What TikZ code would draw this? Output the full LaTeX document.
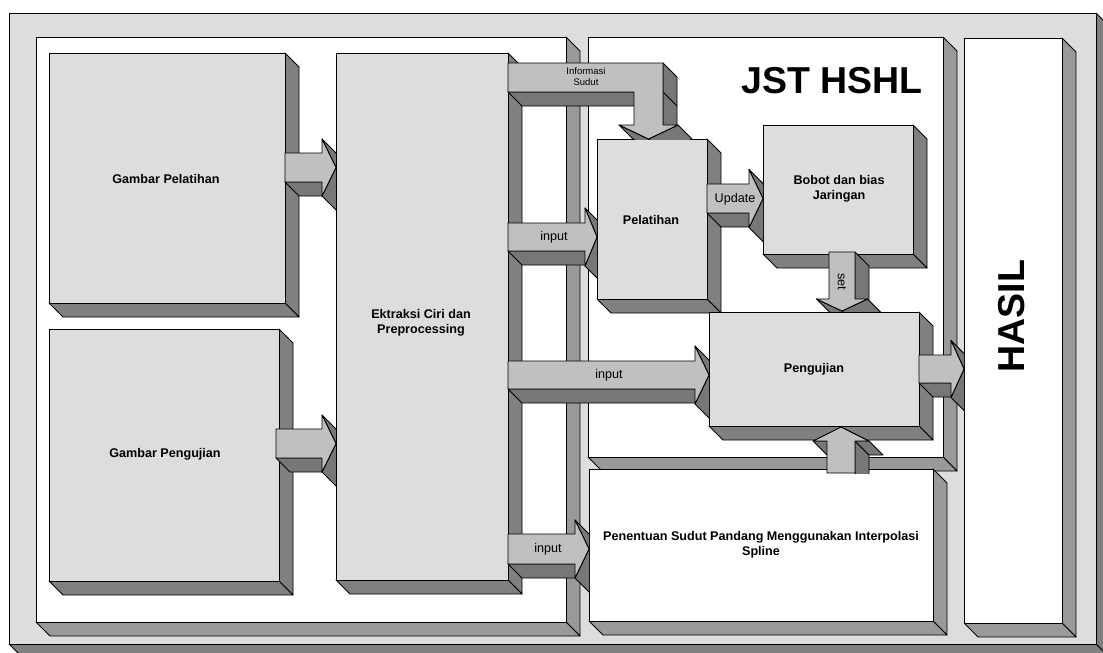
\documentclass[tikz,border=0pt]{standalone}
\usepackage{fontspec}
\setmainfont{Liberation Sans}
\definecolor{boxface}{HTML}{DDDDDD}
\definecolor{boxside}{HTML}{808080}
\definecolor{panelside}{HTML}{999999}
\definecolor{arrface}{HTML}{C0C0C0}
\definecolor{arrside}{HTML}{777777}
\tikzset{
  ln/.style={draw=black, line width=0.9pt, line join=round},
  pside/.style={ln, fill=panelside},
  bside/.style={ln, fill=boxside},
  aside/.style={ln, fill=arrside},
  aface/.style={ln, fill=arrface},
  lbl/.style={inner sep=0pt, align=center, font=\fontsize{12.6}{15}\selectfont\bfseries},
  albl/.style={inner sep=0pt, align=center, font=\fontsize{12.6}{15}\selectfont},
  smalllbl/.style={inner sep=0pt, align=center, font=\fontsize{9.5}{11}\selectfont},
  biglbl/.style={inner sep=0pt, align=center, font=\fontsize{37.5}{40}\selectfont\bfseries},
}
% 3D box: x1 y1 x2 y2 frontcolour sidestyle
\newcommand{\boxthree}[6]{%
  \draw[#6] (#3,#2) -- ({#3+14},{#2+14}) -- ({#3+14},{#4+14}) -- (#3,#4) -- cycle;
  \draw[#6] (#1,#4) -- (#3,#4) -- ({#3+14},{#4+14}) -- ({#1+14},{#4+14}) -- cycle;
  \draw[ln, fill=#5] (#1,#2) rectangle (#3,#4);
}
% extruded edge
\newcommand{\extr}[4]{%
  \draw[aside] (#1,#2) -- (#3,#4) -- ({#3+14},{#4+14}) -- ({#1+14},{#2+14}) -- cycle;
}
% right arrow: x0 xh xt ytop ybot headhalf
\newcommand{\RArr}[6]{%
  \pgfmathsetmacro\aYm{(#4+#5)/2}%
  \pgfmathsetmacro\aHt{\aYm-#6}%
  \pgfmathsetmacro\aHb{\aYm+#6}%
  \begin{scope}
    \clip ({#1-30},0) rectangle (#3,653);
    \extr{#1}{#5}{#2}{#5}
    \extr{#3}{\aYm}{#2}{\aHb}
    \extr{#2}{\aHt}{#3}{\aYm}
  \end{scope}
  \draw[aface] (#1,#4) -- (#2,#4) -- (#2,\aHt) -- (#3,\aYm) -- (#2,\aHb) -- (#2,#5) -- (#1,#5) -- cycle;
}
% down arrow: y0 yh yt xl xr headhalf
\newcommand{\DArr}[6]{%
  \pgfmathsetmacro\aXm{(#4+#5)/2}%
  \pgfmathsetmacro\aHl{\aXm-#6}%
  \pgfmathsetmacro\aHr{\aXm+#6}%
  \begin{scope}
    \clip (0,{#1-30}) rectangle (1103,#3);
    \extr{#5}{#1}{#5}{#2}
    \extr{\aXm}{#3}{\aHl}{#2}
    \extr{\aHr}{#2}{\aXm}{#3}
  \end{scope}
  \draw[aface] (#4,#1) -- (#5,#1) -- (#5,#2) -- (\aHr,#2) -- (\aXm,#3) -- (\aHl,#2) -- (#4,#2) -- cycle;
}
\begin{document}
\begin{tikzpicture}[x=1pt, y=-1pt]
\useasboundingbox (0,0) rectangle (1103,653);
\clip (0,0) rectangle (1103,653);
\fill[white] (0,0) rectangle (1103,653);
% outer frame
\boxthree{9}{13}{1096}{644}{boxface}{bside}
% panels
\boxthree{36}{37}{566}{622}{white}{pside}
\boxthree{588}{37}{943}{457}{white}{pside}
\boxthree{589}{469}{933}{621}{white}{pside}
\boxthree{964}{38}{1062}{623}{white}{pside}
% left boxes
\boxthree{49}{53}{285}{303}{boxface}{bside}
\boxthree{49}{329}{279}{581}{boxface}{bside}
\RArr{285}{322}{336}{153}{182}{28.5}
\RArr{276}{322}{336}{429}{458}{28.5}
\boxthree{336}{53}{508}{580}{boxface}{bside}
% right boxes
\boxthree{597}{139}{707}{299}{boxface}{bside}
\boxthree{763}{125}{913}{254}{boxface}{bside}
\boxthree{709}{312}{919}{426}{boxface}{bside}
% Informasi Sudut arrow
\begin{scope}
  \clip (400,0) rectangle (720,139);
  \draw[aside] (663,63) -- (677,77) -- (677,139) -- (663,125) -- cycle;
  \draw[aside] (634,92) -- (508,92) -- (522,106) -- (648,106) -- cycle;
  \draw[aside] (648.5,139) -- (619,125) -- (633,139) -- (662.5,153) -- cycle;
  \draw[aside] (678,125) -- (648.5,139) -- (662.5,153) -- (692,139) -- cycle;
  \draw[ln] (663,92) -- (677,106);
\end{scope}
\draw[aface] (508,63) -- (663,63) -- (663,125) -- (678,125) -- (648.5,139) -- (619,125) -- (634,125) -- (634,92) -- (508,92) -- cycle;
% input arrows
\RArr{508}{585}{597}{223}{251}{29}
\RArr{508}{695}{709}{361}{389}{29}
\RArr{508}{575}{589}{534}{564}{29}
% update
\RArr{707}{749}{763}{184}{213}{29}
% set
\DArr{252}{299}{311}{829}{855}{25.5}
% up arrow from Penentuan to Pengujian
\begin{scope}
  \clip (0,0) rectangle (1103,473);
  \draw[aside] (855,441) -- (869,455) -- (869,487) -- (855,473) -- cycle;
  \draw[aside] (813,441) -- (827,441) -- (841,455) -- (827,455) -- cycle;
  \draw[aside] (855,441) -- (869,441) -- (883,455) -- (869,455) -- cycle;
\end{scope}
\draw[aface] (827,473) -- (827,441) -- (813,441) -- (841,427) -- (869,441) -- (855,441) -- (855,473) -- cycle;
% Pengujian -> HASIL
\RArr{919}{951}{964}{355}{383}{28.5}
% labels
\node[lbl] (gp) at (166,179) {Gambar Pelatihan};
\node[lbl] (gu) at (165,454) {Gambar Pengujian};
\node[lbl] (ek) at (421,323) {Ektraksi Ciri dan\\Preprocessing};
\node[lbl] (pl) at (651,220) {Pelatihan};
\node[lbl] (bb) at (839,189) {Bobot dan bias\\Jaringan};
\node[lbl] (pg) at (814,369) {Pengujian};
\node[lbl] (pn) at (761,545) {Penentuan Sudut Pandang Menggunakan Interpolasi\\Spline};
\node[biglbl] (jst) at (832,81) {JST HSHL};
\node[biglbl, rotate=90] (hs) at (1012,316) {HASIL};
\node[albl] (i1) at (554,237) {input};
\node[albl] (i2) at (609,375) {input};
\node[albl] (i3) at (548,549) {input};
\node[albl] (upd) at (735,199) {Update};
\node[albl, rotate=-90] (st) at (842,282) {set};
\node[smalllbl] (inf) at (586,77) {Informasi\\Sudut};
\end{tikzpicture}
\end{document}
